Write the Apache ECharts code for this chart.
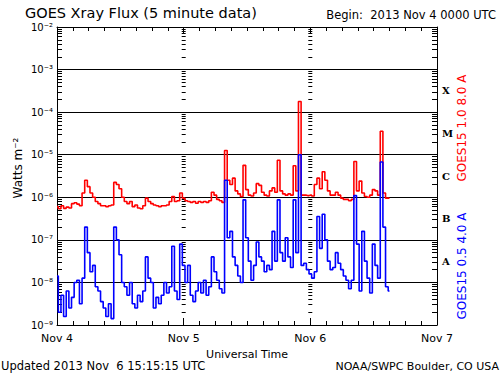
<!DOCTYPE html>
<html>
<head>
<meta charset="utf-8">
<script src="https://cdn.jsdelivr.net/npm/echarts@6/dist/echarts.min.js"></script>
<style>
html,body{margin:0;padding:0;background:#fff;}
#chart{width:500px;height:375px;}
</style>
</head>
<body>
<div id="chart"></div>
<script>
// Hours since 2013 Nov 4 00:00 UTC, sampled every half hour
const sampleStepHours = 0.5;
const sampleCount = 127;
const sampleHours = Array.from({length: sampleCount}, (_, i) => i * sampleStepHours);

// log10 of flux (W m^-2), GOES15 1.0-8.0 A (red)
const longFluxLog = [
 -6.22,-6.27,-6.20,-6.26,-6.23,-6.25,-6.15,-6.13,-6.16,-6.20,
 -5.90,-5.60,-5.75,-5.90,-6.00,-6.10,-6.15,-6.20,-6.20,-6.22,
 -6.20,-6.18,-5.65,-5.70,-5.80,-6.00,-6.10,-6.15,-6.10,-6.22,
 -6.18,-6.25,-6.27,-6.20,-6.02,-6.10,-6.15,-6.18,-6.20,-6.22,
 -6.20,-6.20,-6.18,-6.10,-5.98,-6.10,-6.08,-5.90,-6.02,-6.08,
 -6.10,-6.12,-6.10,-6.14,-6.10,-6.12,-6.10,-6.12,-6.08,-5.88,
 -5.95,-6.05,-6.08,-6.12,-4.90,-5.60,-5.70,-5.55,-5.85,-5.92,
 -5.98,-5.25,-5.82,-5.95,-5.97,-5.90,-5.68,-5.72,-5.88,-5.95,
 -5.97,-5.85,-5.78,-5.88,-5.13,-5.85,-5.92,-5.95,-5.92,-5.95,
 -5.26,-5.85,-3.75,-5.95,-5.95,-5.96,-5.95,-5.97,-5.70,-5.55,
 -5.80,-5.40,-5.60,-5.85,-5.95,-5.95,-5.88,-5.95,-6.02,-6.05,
 -6.05,-6.08,-6.05,-5.16,-5.85,-5.62,-5.90,-5.98,-6.00,-5.95,
 -5.82,-5.85,-5.95,-4.45,-5.90,-6.02,-6.02
];

// log10 of flux (W m^-2), GOES15 0.5-4.0 A (blue)
const shortFluxLog = [
 -7.85,-8.70,-8.30,-8.80,-8.20,-8.60,-8.35,-8.00,-7.95,-8.50,
 -7.90,-6.70,-7.30,-7.75,-7.60,-8.10,-8.20,-8.45,-8.60,-8.80,
 -8.50,-8.85,-6.70,-7.00,-7.35,-8.00,-8.10,-8.30,-8.00,-8.50,
 -8.60,-8.30,-8.45,-8.20,-7.40,-7.90,-8.00,-8.60,-8.35,-8.50,
 -8.30,-8.00,-8.25,-8.10,-7.15,-8.20,-8.40,-7.10,-7.60,-8.00,
 -7.60,-8.30,-8.45,-8.20,-8.00,-8.25,-7.95,-8.30,-8.10,-7.40,
 -7.75,-7.95,-8.15,-8.25,-5.60,-6.95,-6.80,-7.40,-7.60,-7.85,
 -8.00,-6.06,-6.95,-7.50,-7.95,-7.60,-7.05,-7.40,-7.50,-7.75,
 -7.60,-7.70,-6.80,-7.50,-6.06,-7.30,-7.50,-6.95,-7.40,-7.65,
 -6.06,-7.30,-5.00,-7.60,-7.55,-7.70,-7.80,-7.90,-7.75,-6.45,
 -7.20,-6.40,-7.00,-7.50,-7.70,-7.65,-7.30,-7.55,-7.70,-7.85,
 -7.95,-8.15,-7.95,-5.96,-7.10,-8.20,-6.80,-7.50,-7.90,-8.25,
 -7.10,-7.60,-7.90,-5.17,-6.70,-8.10,-8.20
];

const dayLabels = ['Nov 4', 'Nov 5', 'Nov 6', 'Nov 7'];
const decadeExponents = [-9, -8, -7, -6, -5, -4, -3, -2];
const flareClasses = ['X', 'M', 'C', 'B', 'A'];
const flareClassCenters = [-3.5, -4.5, -5.5, -6.5, -7.5];

const supMap = {'-':'⁻','0':'⁰','1':'¹','2':'²','3':'³','4':'⁴','5':'⁵','6':'⁶','7':'⁷','8':'⁸','9':'⁹'};
const sup = s => String(s).split('').map(c => supMap[c] || c).join('');

const minorVals = [];
for (let n = -9; n < -2; n++) for (let k = 2; k <= 9; k++) minorVals.push(n + Math.log10(k));
const allVals = minorVals.concat(decadeExponents);

const FONT = 'DejaVu Sans';
const chart = echarts.init(document.getElementById('chart'), null, {renderer: 'svg'});

function tickAxis(position, values, opts) {
  return Object.assign({
    type: 'value', min: -9, max: -2, position: position,
    axisLine: {show: false},
    axisTick: {show: true, customValues: values, inside: true, length: 5, lineStyle: {color: '#000', width: 1}},
    axisLabel: {show: false},
    splitLine: {show: false}
  }, opts || {});
}

const option = {
  animation: false,
  backgroundColor: '#fff',
  grid: {left: 57, right: 63, top: 27, bottom: 50, containLabel: false},
  xAxis: [
    {
      type: 'value', min: 0, max: 72, interval: 24, position: 'bottom',
      axisLine: {show: true, lineStyle: {color: '#000', width: 1}},
      axisTick: {show: true, inside: true, length: 7, lineStyle: {color: '#000'}},
      minorTick: {show: true, splitNumber: 8, length: 4, lineStyle: {color: '#000'}},
      axisLabel: {color: '#000', fontFamily: FONT, fontSize: 11, margin: 8,
        formatter: v => dayLabels[Math.round(v / 24)] || ''},
      splitLine: {show: false},
      name: 'Universal Time', nameLocation: 'middle', nameGap: 22,
      nameTextStyle: {color: '#000', fontFamily: FONT, fontSize: 11}
    },
    {
      type: 'value', min: 0, max: 72, interval: 24, position: 'top',
      axisLine: {show: true, lineStyle: {color: '#000', width: 1}},
      axisTick: {show: true, inside: true, length: 7, lineStyle: {color: '#000'}},
      minorTick: {show: true, splitNumber: 8, length: 4, lineStyle: {color: '#000'}},
      axisLabel: {show: false},
      splitLine: {show: false}
    }
  ],
  yAxis: [
    {
      type: 'value', min: -9, max: -2, interval: 1, position: 'left',
      axisLine: {show: true, lineStyle: {color: '#000', width: 1}},
      axisTick: {show: false},
      axisLabel: {color: '#000', fontFamily: FONT, fontSize: 10, margin: 4,
        formatter: v => '10' + sup(v)},
      splitLine: {show: true, lineStyle: {color: '#000', width: 1.2}}
    },
    tickAxis('left', minorVals),
    tickAxis('right', minorVals, {
      axisLine: {show: true, lineStyle: {color: '#000', width: 1}},
      axisLabel: {show: true, customValues: flareClassCenters, margin: 5,
        color: '#000', fontFamily: 'DejaVu Serif', fontWeight: 'bold', fontSize: 10,
        formatter: v => flareClasses[flareClassCenters.indexOf(v)] || ''}
    }),
    tickAxis('left', allVals, {offset: -128.7, axisTick: {show: true, customValues: allVals, inside: false, length: 4, lineStyle: {color: '#000'}}}),
    tickAxis('left', allVals, {offset: -255.3, axisTick: {show: true, customValues: allVals, inside: false, length: 4, lineStyle: {color: '#000'}}})
  ],
  series: [
    {
      name: 'GOES15 1.0 8.0 A', type: 'line', step: 'middle', showSymbol: false,
      xAxisIndex: 0, yAxisIndex: 0,
      lineStyle: {color: '#ff0000', width: 1.6},
      data: sampleHours.map((t, i) => [t, longFluxLog[i]])
    },
    {
      name: 'GOES15 0.5 4.0 A', type: 'line', step: 'middle', showSymbol: false,
      xAxisIndex: 0, yAxisIndex: 0,
      lineStyle: {color: '#0000ff', width: 1.6},
      data: sampleHours.map((t, i) => [t, shortFluxLog[i]])
    }
  ],
  graphic: [
    {type: 'text', x: 25, y: 13, style: {text: 'GOES Xray Flux (5 minute data)', fill: '#000', font: '14.5px "DejaVu Sans"', textAlign: 'left', textVerticalAlign: 'middle'}},
    {type: 'text', x: 496, y: 15, style: {text: 'Begin:  2013 Nov 4 0000 UTC', fill: '#000', font: '11.5px "DejaVu Sans"', textAlign: 'right', textVerticalAlign: 'middle'}},
    {type: 'text', x: 18, y: 168, rotation: Math.PI / 2, style: {text: 'Watts m⁻²', fill: '#000', font: '12px "DejaVu Sans"', textAlign: 'center', textVerticalAlign: 'middle'}},
    {type: 'text', x: 1, y: 366, style: {text: 'Updated 2013 Nov  6 15:15:15 UTC', fill: '#000', font: '11.5px "DejaVu Sans"', textAlign: 'left', textVerticalAlign: 'middle'}},
    {type: 'text', x: 499, y: 366, style: {text: 'NOAA/SWPC Boulder, CO USA', fill: '#000', font: '11px "DejaVu Sans"', textAlign: 'right', textVerticalAlign: 'middle'}},
    {type: 'text', x: 462, y: 128, rotation: Math.PI / 2, style: {text: 'GOES15 1.0 8.0 A', fill: '#ff0000', font: '12px "DejaVu Sans"', textAlign: 'center', textVerticalAlign: 'middle'}},
    {type: 'text', x: 462, y: 266, rotation: Math.PI / 2, style: {text: 'GOES15 0.5 4.0 A', fill: '#0000ff', font: '12px "DejaVu Sans"', textAlign: 'center', textVerticalAlign: 'middle'}}
  ]
};
chart.setOption(option);
</script>
</body>
</html>
